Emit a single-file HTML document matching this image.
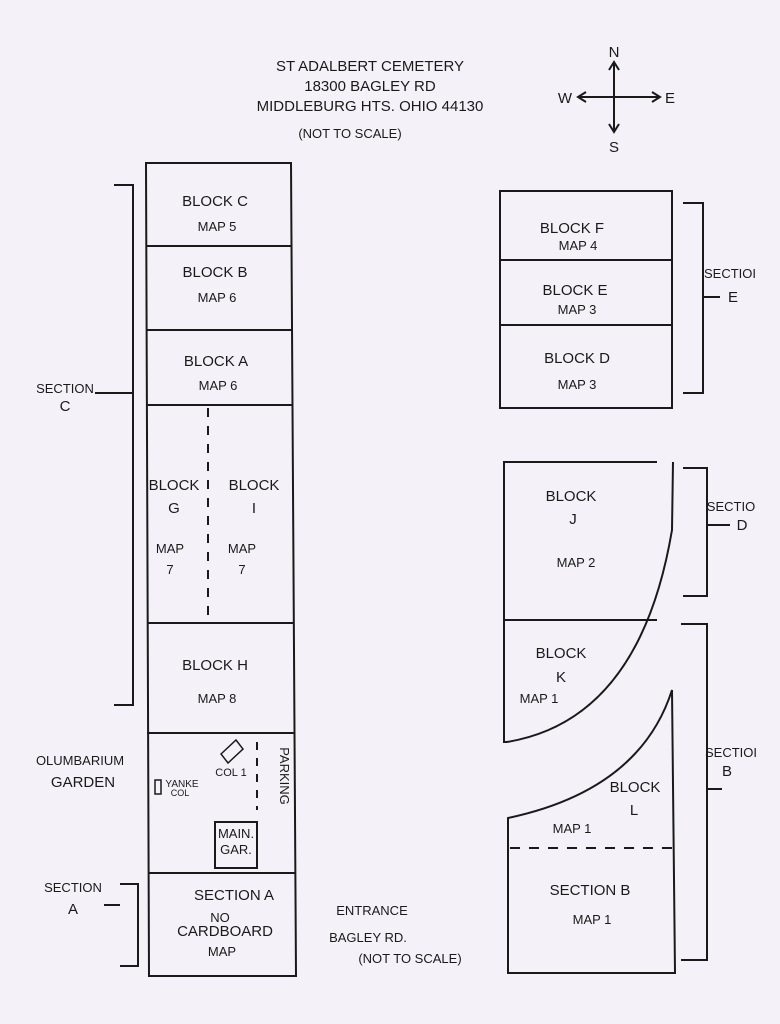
<!DOCTYPE html>
<html><head><meta charset="utf-8"><style>
html,body{margin:0;padding:0;background:#f4f2f8;}
svg{display:block}
text{font-family:"Liberation Sans",sans-serif;fill:#1a1a1a;font-size:15px;text-anchor:middle;}
.s{font-size:13px}
</style></head><body>
<svg width="780" height="1024" viewBox="0 0 780 1024" xmlns="http://www.w3.org/2000/svg">
<rect width="780" height="1024" fill="#f4f2f8"/>
<g stroke="#1a1a1a" stroke-width="2" fill="none">
<path d="M146 163 L291 163 L296 976 L149 976 Z"/>
<path d="M146 246 L291 246 M146 330 L292 330 M146 405 L292 405 M147 623 L293 623 M147 733 L294 733 M148 873 L296 873"/>
<path d="M208 408 L208 618" stroke-dasharray="9 9"/>
<path d="M114 185 L133 185 L133 705 L114 705 M133 393 L95 393"/>
<path d="M120 884 L138 884 L138 966 L120 966 M120 905 L104 905"/>
<rect x="215" y="822" width="42" height="46"/>
<rect x="155" y="780" width="6" height="14" stroke-width="1.5"/>
<path d="M221 754 L236 740 L243 749 L228 763 Z" stroke-width="1.5"/>
<path d="M257 742 L257 810" stroke-dasharray="8 8"/>
<rect x="500" y="191" width="172" height="217"/>
<path d="M500 260 L672 260 M500 325 L672 325"/>
<path d="M683 203 L703 203 L703 393 L683 393 M703 297 L720 297"/>
<path d="M657 462 L504 462 L504 742 L507 742 Q640 720 672 530 L673 462"/>
<path d="M504 620 L657 620"/>
<path d="M683 468 L707 468 L707 596 L683 596 M707 525 L730 525"/>
<path d="M508 818 Q640 790 672 690 L675 973 L508 973 Z"/>
<path d="M510 848 L672 848" stroke-dasharray="10 9"/>
<path d="M681 624 L707 624 L707 960 L681 960 M707 789 L722 789"/>
<path d="M614 62 L614 132 M578 97 L660 97 M609 70 L614 62 L619 70 M609 124 L614 132 L619 124 M586 92 L578 97 L586 102 M652 92 L660 97 L652 102"/>
</g>
<text x="614" y="57">N</text><text x="614" y="152">S</text>
<text x="565" y="103">W</text><text x="670" y="103">E</text>
<text x="370" y="71">ST ADALBERT CEMETERY</text>
<text x="370" y="91">18300 BAGLEY RD</text>
<text x="370" y="111">MIDDLEBURG HTS. OHIO 44130</text>
<text x="350" y="138" class="s">(NOT TO SCALE)</text>
<text x="215" y="206">BLOCK C</text><text x="217" y="231" class="s">MAP 5</text>
<text x="215" y="277">BLOCK B</text><text x="217" y="302" class="s">MAP 6</text>
<text x="216" y="366">BLOCK A</text><text x="218" y="390" class="s">MAP 6</text>
<text x="174" y="490">BLOCK</text><text x="174" y="513">G</text>
<text x="254" y="490">BLOCK</text><text x="254" y="513">I</text>
<text x="170" y="553" class="s">MAP</text><text x="170" y="574" class="s">7</text>
<text x="242" y="553" class="s">MAP</text><text x="242" y="574" class="s">7</text>
<text x="215" y="670">BLOCK H</text><text x="217" y="703" class="s">MAP 8</text>
<text x="231" y="776" style="font-size:11px">COL 1</text>
<text x="182" y="787" style="font-size:10px">YANKE</text><text x="180" y="796" style="font-size:9px">COL</text>
<text x="236" y="838" class="s">MAIN.</text><text x="236" y="854" class="s">GAR.</text>
<text transform="translate(280,776) rotate(90)" class="s">PARKING</text>
<text x="80" y="765" class="s">OLUMBARIUM</text><text x="83" y="787">GARDEN</text>
<text x="234" y="900">SECTION A</text><text x="220" y="922" class="s">NO</text>
<text x="225" y="936">CARDBOARD</text><text x="222" y="956" class="s">MAP</text>
<text x="65" y="393" class="s">SECTION</text><text x="65" y="411">C</text>
<text x="73" y="892" class="s">SECTION</text><text x="73" y="914">A</text>
<text x="372" y="915" class="s">ENTRANCE</text><text x="368" y="942" class="s">BAGLEY RD.</text>
<text x="410" y="963" class="s">(NOT TO SCALE)</text>
<text x="572" y="233">BLOCK F</text><text x="578" y="250" class="s">MAP 4</text>
<text x="575" y="295">BLOCK E</text><text x="577" y="314" class="s">MAP 3</text>
<text x="577" y="363">BLOCK D</text><text x="577" y="389" class="s">MAP 3</text>
<text x="730" y="278" class="s">SECTIOI</text><text x="733" y="302">E</text>
<text x="571" y="501">BLOCK</text><text x="573" y="524">J</text><text x="576" y="567" class="s">MAP 2</text>
<text x="731" y="511" class="s">SECTIO</text><text x="742" y="530">D</text>
<text x="561" y="658">BLOCK</text><text x="561" y="682">K</text><text x="539" y="703" class="s">MAP 1</text>
<text x="635" y="792">BLOCK</text><text x="634" y="815">L</text><text x="572" y="833" class="s">MAP 1</text>
<text x="731" y="757" class="s">SECTIOI</text><text x="727" y="776">B</text>
<text x="590" y="895">SECTION B</text><text x="592" y="924" class="s">MAP 1</text>
</svg>
</body></html>
